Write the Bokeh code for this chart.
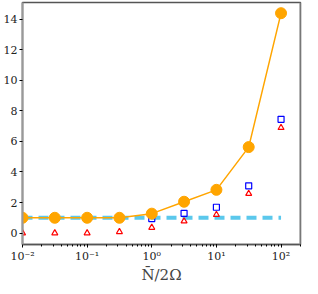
from bokeh.plotting import figure
from bokeh.models import Range1d, CustomJSTickFormatter, FixedTicker, Span
from bokeh.embed import file_html
from bokeh.resources import INLINE

x_vals = [0.01, 0.0316, 0.1, 0.316, 1.0, 3.16, 10.0, 31.6, 100.0]
orange_vals = [1.0, 1.0, 1.0, 1.0, 1.27, 2.05, 2.83, 5.63, 14.4]
blue_vals = [1.0, 1.0, 1.0, 1.0, 0.95, 1.29, 1.69, 3.09, 7.45]
red_vals = [0.0, 0.0, 0.0, 0.08, 0.36, 0.78, 1.2, 2.58, 6.9]
ref_x = [0.01, 100.0]
ref_y = [1.0, 1.0]
y_ticks = [0, 2, 4, 6, 8, 10, 12, 14]

FONT = "DejaVu Serif"
X_MAX = 200

p = figure(width=302, height=286, x_axis_type="log", output_backend="svg",
           toolbar_location=None, min_border_left=2, min_border_right=2,
           min_border_top=2, min_border_bottom=0)
p.x_range = Range1d(0.01, X_MAX)
p.y_range = Range1d(-0.75, 15.1)
p.grid.visible = False
p.background_fill_color = "white"
p.border_fill_color = "white"
p.outline_line_color = "#555555"
p.outline_line_width = 1.5

p.line(ref_x, ref_y, line_color="#5bc8ec", line_width=4, line_dash="10 6")
p.scatter(x_vals, red_vals, marker="triangle", size=6, fill_color=None,
          line_color="red", line_width=1.2)
p.scatter(x_vals, blue_vals, marker="square", size=6, fill_color=None,
          line_color="blue", line_width=1.2)
p.line(x_vals, orange_vals, line_color="orange", line_width=1.5)
p.scatter(x_vals, orange_vals, marker="circle", size=11, fill_color="orange",
          line_color="orange")

p.add_layout(Span(location=X_MAX, dimension="height", line_color="#999999",
                  line_width=2))

p.xaxis.ticker.desired_num_ticks = 5
p.xaxis.formatter = CustomJSTickFormatter(code="""
const e = Math.round(Math.log10(tick));
const sup = {'-':'\u207b','0':'\u2070','1':'\u00b9','2':'\u00b2','3':'\u00b3','4':'\u2074','5':'\u2075','6':'\u2076','7':'\u2077','8':'\u2078','9':'\u2079'};
return '10' + String(e).split('').map(c => sup[c]).join('');
""")
p.yaxis.ticker = FixedTicker(ticks=y_ticks)
p.yaxis.minor_tick_line_color = None

for ax in (p.xaxis[0], p.yaxis[0]):
    ax.major_label_text_font = FONT
    ax.major_label_text_font_size = "11px"
    ax.major_label_text_color = "#222222"
    ax.major_tick_in = 0
    ax.major_tick_out = 3
    ax.minor_tick_in = 0
    ax.minor_tick_out = 2
    ax.major_label_standoff = 2
p.yaxis.axis_line_color = "#999999"
p.yaxis.axis_line_width = 2
p.xaxis.axis_line_color = "#555555"
p.xaxis.axis_line_width = 1.5

p.xaxis.axis_label = "N\u0304/2\u03a9"
p.xaxis.axis_label_text_font = FONT
p.xaxis.axis_label_text_font_size = "15px"
p.xaxis.axis_label_text_font_style = "normal"
p.xaxis.axis_label_standoff = 0

open("out.html", "w").write(file_html(p, INLINE))
